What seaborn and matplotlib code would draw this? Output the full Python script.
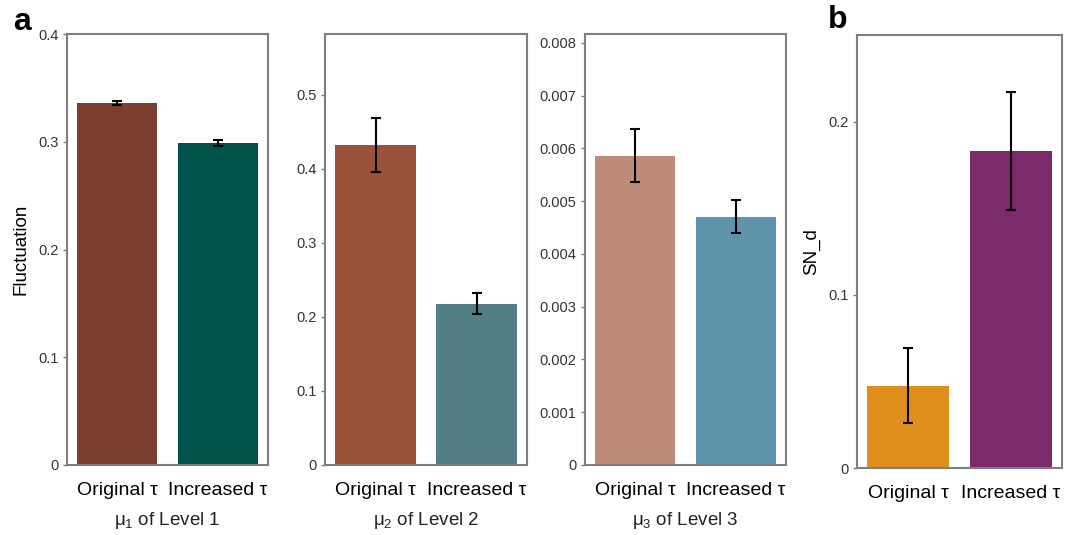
import numpy as np
import pandas as pd
import matplotlib
matplotlib.use("Agg")
import matplotlib.pyplot as plt
import seaborn as sns

sns.set_theme(style="white")
plt.rcParams['font.family'] = ['Liberation Sans', 'DejaVu Sans']
plt.rcParams['mathtext.fontset'] = 'custom'
plt.rcParams['mathtext.rm'] = 'Liberation Sans'
plt.rcParams['mathtext.it'] = 'Liberation Sans:italic'

categories = ["Original τ", "Increased τ"]

lvl1_values = [0.336, 0.299]
lvl1_errors = [0.0018, 0.003]
lvl2_values = [0.432, 0.218]
lvl2_errors = [0.037, 0.014]
lvl3_values = [0.00586, 0.00471]
lvl3_errors = [0.00050, 0.00032]
snd_values = [0.0476, 0.183]
snd_errors = [0.0218, 0.034]

lvl1_colors = ["#7B3F2E", "#00524A"]
lvl2_colors = ["#9C523A", "#527F85"]
lvl3_colors = ["#BE8B7A", "#5F95AC"]
snd_colors = ["#E08E1C", "#7B2A6B"]

panel_xlabels = ["$\\mathrm{\\mu}_1$ of Level 1", "$\\mathrm{\\mu}_2$ of Level 2",
                 "$\\mathrm{\\mu}_3$ of Level 3", None]
yticks_list = [[0, 0.1, 0.2, 0.3, 0.4],
               [0, 0.1, 0.2, 0.3, 0.4, 0.5],
               [0, 0.001, 0.002, 0.003, 0.004, 0.005, 0.006, 0.007, 0.008],
               [0, 0.1, 0.2]]
ytick_labels = [["0", "0.1", "0.2", "0.3", "0.4"],
                ["0", "0.1", "0.2", "0.3", "0.4", "0.5"],
                ["0", "0.001", "0.002", "0.003", "0.004", "0.005", "0.006", "0.007", "0.008"],
                ["0", "0.1", "0.2"]]
ylims = [(0, 0.4), (0, 0.582), (0, 0.00817), (0, 0.25)]

W, H = 1083, 535
fig = plt.figure(figsize=(W / 100, H / 100), dpi=100)

def box(l, t, r, b):
    return [l / W, 1 - b / H, (r - l) / W, (b - t) / H]

rects = [box(67, 34, 268, 465), box(325, 34, 527, 465),
         box(585, 34, 786, 465), box(857, 35, 1062, 468)]

datasets = [(lvl1_values, lvl1_errors, lvl1_colors),
            (lvl2_values, lvl2_errors, lvl2_colors),
            (lvl3_values, lvl3_errors, lvl3_colors),
            (snd_values, snd_errors, snd_colors)]

spine_c = "#7f7f7f"
for i, (rect, (vals, errs, cols)) in enumerate(zip(rects, datasets)):
    ax = fig.add_axes(rect)
    df = pd.DataFrame({"cond": categories, "val": vals})
    sns.barplot(data=df, x="cond", y="val", hue="cond", palette=cols,
                order=categories, hue_order=categories, legend=False,
                errorbar=None, width=0.8, saturation=1, linewidth=0, ax=ax)
    ax.errorbar(x=[0, 1], y=vals, yerr=errs, fmt="none", ecolor="black",
                elinewidth=1.5, capsize=3.5, capthick=1.5, zorder=5)
    ax.set_xlim(-0.5, 1.5)
    ax.set_ylim(*ylims[i])
    ax.set_yticks(yticks_list[i])
    ax.set_yticklabels(ytick_labels[i])
    for s in ax.spines.values():
        s.set_visible(True)
        s.set_color(spine_c)
        s.set_linewidth(1.5)
    ax.tick_params(axis="y", which="major", direction="out", length=3, width=1,
                   color=spine_c, labelsize=10.5, labelcolor="#333333", left=True, pad=3)
    ax.tick_params(axis="x", length=0, labelsize=14, labelcolor="black", pad=12)
    ax.set_ylabel("")
    if panel_xlabels[i]:
        ax.set_xlabel(panel_xlabels[i], fontsize=13.5, color="#222222", labelpad=8)
    else:
        ax.set_xlabel("")
    if i == 0:
        ax.set_ylabel("Fluctuation", fontsize=13.5, color="black", labelpad=6)
    if i == 3:
        ax.set_ylabel("SN_d", fontsize=13.5, color="black", labelpad=6)

fig.text(13 / W, 1 - 22 / H, "a", fontsize=23, fontweight="bold", color="black",
         va="center", ha="left")
fig.text(828 / W, 1 - 20 / H, "b", fontsize=23, fontweight="bold", color="black",
         va="center", ha="left")

fig.savefig("out.png", dpi=100)
